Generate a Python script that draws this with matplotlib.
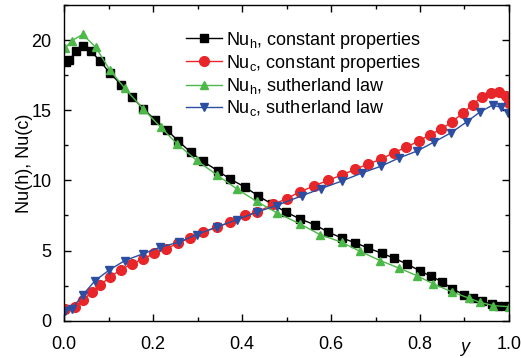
import matplotlib
matplotlib.use("Agg")
import matplotlib.pyplot as plt
from matplotlib.ticker import MultipleLocator

plt.rcParams['font.family'] = ['Liberation Sans', 'DejaVu Sans']

# Nu_h, constant properties
x_h_const = [0.004,0.012,0.027,0.043,0.06,0.081,0.103,0.129,0.152,0.178,0.204,0.231,0.257,0.285,0.312,0.345,0.373,0.407,0.437,0.468,0.499,0.53,0.564,0.594,0.624,0.655,0.684,0.714,0.742,0.77,0.799,0.824,0.849,0.873,0.899,0.92,0.939,0.961,0.978,0.998]
y_h_const = [18.45,18.6,19.2,19.57,19.24,18.5,17.66,16.8,15.95,15.12,14.33,13.6,12.8,12.0,11.36,10.7,10.1,9.52,8.88,8.3,7.74,7.26,6.83,6.31,5.9,5.55,5.17,4.81,4.45,4.05,3.57,3.17,2.79,2.26,1.86,1.62,1.38,1.19,1.07,1.02]

# Nu_c, constant properties
x_c_const = [0.002,0.025,0.043,0.062,0.082,0.103,0.127,0.152,0.178,0.203,0.229,0.256,0.283,0.313,0.343,0.373,0.407,0.433,0.47,0.5,0.53,0.562,0.594,0.624,0.654,0.684,0.713,0.741,0.769,0.797,0.822,0.848,0.872,0.896,0.918,0.939,0.959,0.977,0.993,1.0]
y_c_const = [0.83,1.0,1.48,2.02,2.57,3.1,3.62,4.05,4.4,4.81,5.12,5.52,5.9,6.31,6.67,7.02,7.5,7.74,8.29,8.69,9.19,9.6,10.02,10.38,10.79,11.17,11.52,11.98,12.36,12.81,13.24,13.67,14.17,14.79,15.4,15.95,16.24,16.29,16.0,15.5]

# Nu_h, sutherland law
x_h_suth = [0.002,0.017,0.042,0.071,0.103,0.137,0.177,0.217,0.255,0.298,0.343,0.388,0.433,0.478,0.53,0.575,0.624,0.665,0.71,0.753,0.793,0.83,0.871,0.909,0.935,0.965,1.0]
y_h_suth = [19.4,19.95,20.4,19.5,17.86,16.55,15.12,13.8,12.57,11.43,10.4,9.4,8.5,7.7,6.9,6.14,5.59,4.95,4.29,3.75,3.21,2.62,2.07,1.62,1.31,1.07,1.0]

# Nu_c, sutherland law
x_c_suth = [0.002,0.017,0.042,0.07,0.102,0.137,0.177,0.216,0.259,0.298,0.343,0.388,0.433,0.478,0.534,0.577,0.624,0.669,0.713,0.753,0.794,0.832,0.869,0.905,0.935,0.963,0.983,0.998]
y_c_suth = [0.71,0.83,1.83,2.86,3.62,4.29,4.76,5.24,5.6,6.14,6.67,7.19,7.74,8.21,8.9,9.41,9.95,10.52,11.02,11.6,12.1,12.74,13.38,14.17,14.88,15.36,15.2,14.79]

labels = ['Nu$_\\mathregular{h}$, constant properties',
          'Nu$_\\mathregular{c}$, constant properties',
          'Nu$_\\mathregular{h}$, sutherland law',
          'Nu$_\\mathregular{c}$, sutherland law']
x_ticks = [0.0, 0.2, 0.4, 0.6, 0.8, 1.0]
x_ticklabels = ['0.0', '0.2', '0.4', '0.6', '0.8', '1.0']
y_ticks = [0, 5, 10, 15, 20]

fig = plt.figure(figsize=(5.21, 3.58), dpi=100)
ax = fig.add_axes([64/521, 1-320.7/358, 445/521, 315.7/358])

ax.plot(x_h_const, y_h_const, '-s', color='black', lw=1.0, ms=6, label=labels[0])
ax.plot(x_c_const, y_c_const, '-o', color='#e8262a', lw=1.0, ms=7, label=labels[1])
ax.plot(x_h_suth, y_h_suth, '-^', color='#4cb848', lw=1.0, ms=6, label=labels[2])
ax.plot(x_c_suth, y_c_suth, '-v', color='#2b4ea2', lw=1.0, ms=6, label=labels[3])

ax.set_xlim(0, 1.0)
ax.set_ylim(0, 22.5)
ax.set_xticks(x_ticks)
ax.set_xticklabels(x_ticklabels)
ax.set_yticks(y_ticks)
ax.xaxis.set_minor_locator(MultipleLocator(0.1))
ax.yaxis.set_minor_locator(MultipleLocator(2.5))
ax.tick_params(which='both', direction='in', top=True, right=True, labelsize=13, width=1.0)
ax.tick_params(which='major', length=5)
ax.tick_params(which='minor', length=3)
ax.tick_params(axis='x', which='major', pad=11)
ax.tick_params(axis='y', which='major', pad=9)
for s in ax.spines.values():
    s.set_linewidth(1.0)

ax.set_ylabel('Nu(h), Nu(c)', fontsize=13)
ax.yaxis.set_label_coords(-0.07, 0.5)
ax.text(0.9, -0.085, 'y', transform=ax.transAxes, fontsize=13, style='italic', ha='center', va='center')

ax.legend(loc='upper left', bbox_to_anchor=(0.275, 0.922), frameon=False, fontsize=13,
          handlelength=2.0, handletextpad=0.2, labelspacing=0.12, borderpad=0, borderaxespad=0)

fig.savefig('out.png', dpi=100)
